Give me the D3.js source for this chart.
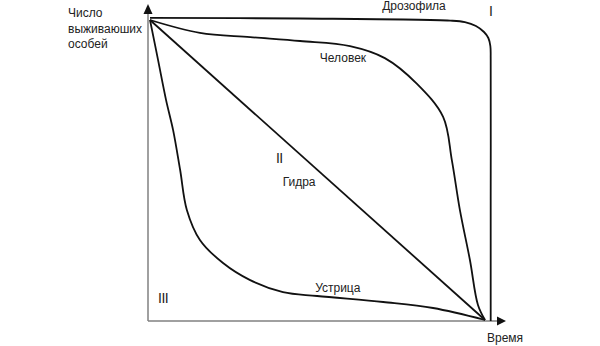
<!DOCTYPE html>
<html>
<head>
<meta charset="utf-8">
<script src="https://cdn.jsdelivr.net/npm/d3@7/dist/d3.min.js"></script>
<style>
  html, body { margin: 0; padding: 0; background: #fff; }
  svg text { font-family: "Liberation Sans", Arial, sans-serif; fill: #222; }
</style>
</head>
<body>
<svg id="chart" width="600" height="346"></svg>
<script>
// Survival curves (time %, survivors %)
const drosophila = [[0,100.7],[44.8,100.5],[89.6,99.8],[94.0,99.3],[97.3,98],[99.7,96],[101.0,94],[101.6,91.3],[101.7,86.7],[101.7,40],[101.7,-0.3]];
const human = [[0,100],[14.9,95.7],[29.9,94.3],[44.8,93],[59.7,91.3],[70.1,87.3],[79.7,78.7],[87.5,67.7],[90.1,53.3],[92.5,36.7],[95.5,20],[97.9,5],[100,0]];
const hydra = [[0,100],[100,0]];
const oyster = [[0,100],[2.4,86.7],[4.8,73.3],[6.9,63.3],[9,50],[11,36.7],[14.9,26.7],[21.8,19],[29.9,13.3],[39.7,9.3],[49.9,8],[69.6,6],[84.5,4],[100,0]];
const curveLabels = [
  {text: "Дрозофила", x: 69.3, y: 103.2},
  {text: "Человек",   x: 50.7, y: 86},
  {text: "Гидра",     x: 39.6, y: 44.7},
  {text: "Устрица",   x: 49.3, y: 9.3}
];
const typeLabels = [
  {text: "I",   x: 101.2, y: 101.3},
  {text: "II",  x: 37.6,  y: 52.3},
  {text: "III", x: 2.4,   y: 5.7}
];
const yTitle = ["Число", "выживаюших", "особей"];
const xTitle = "Время";

const svg = d3.select("#chart");
const x = d3.scaleLinear().domain([0, 100]).range([150, 485]);
const y = d3.scaleLinear().domain([0, 100]).range([320, 20]);

const axX = 148, axY = 321;
// axes
svg.append("line").attr("x1", axX).attr("y1", axY).attr("x2", 499).attr("y2", axY)
  .attr("stroke", "#808080").attr("stroke-width", 1.5);
svg.append("line").attr("x1", axX).attr("y1", axY).attr("x2", axX).attr("y2", 12)
  .attr("stroke", "#808080").attr("stroke-width", 1.5);
svg.append("path").attr("d", `M${axX},4 L${axX-4.5},14 L${axX+4.5},14 Z`).attr("fill", "#111");
svg.append("path").attr("d", `M506,${axY} L497,${axY-4.5} L497,${axY+4.5} Z`).attr("fill", "#111");

const line = d3.line().x(d => x(d[0])).y(d => y(d[1])).curve(d3.curveCatmullRom.alpha(0.5));
[drosophila, human, hydra, oyster].forEach(s => {
  svg.append("path").attr("d", line(s)).attr("fill", "none")
    .attr("stroke", "#111").attr("stroke-width", 1.8).attr("stroke-linejoin", "round");
});

curveLabels.forEach(l => {
  svg.append("text").attr("x", x(l.x)).attr("y", y(l.y)).attr("font-size", 12).text(l.text);
});
typeLabels.forEach(l => {
  svg.append("text").attr("x", x(l.x)).attr("y", y(l.y)).attr("font-size", 14)
    .attr("letter-spacing", -0.5).text(l.text);
});

yTitle.forEach((t, i) => {
  svg.append("text").attr("x", 68).attr("y", 17 + i * 15.5).attr("font-size", 12).text(t);
});
svg.append("text").attr("x", 487).attr("y", 342).attr("font-size", 12).text(xTitle);
</script>
</body>
</html>
